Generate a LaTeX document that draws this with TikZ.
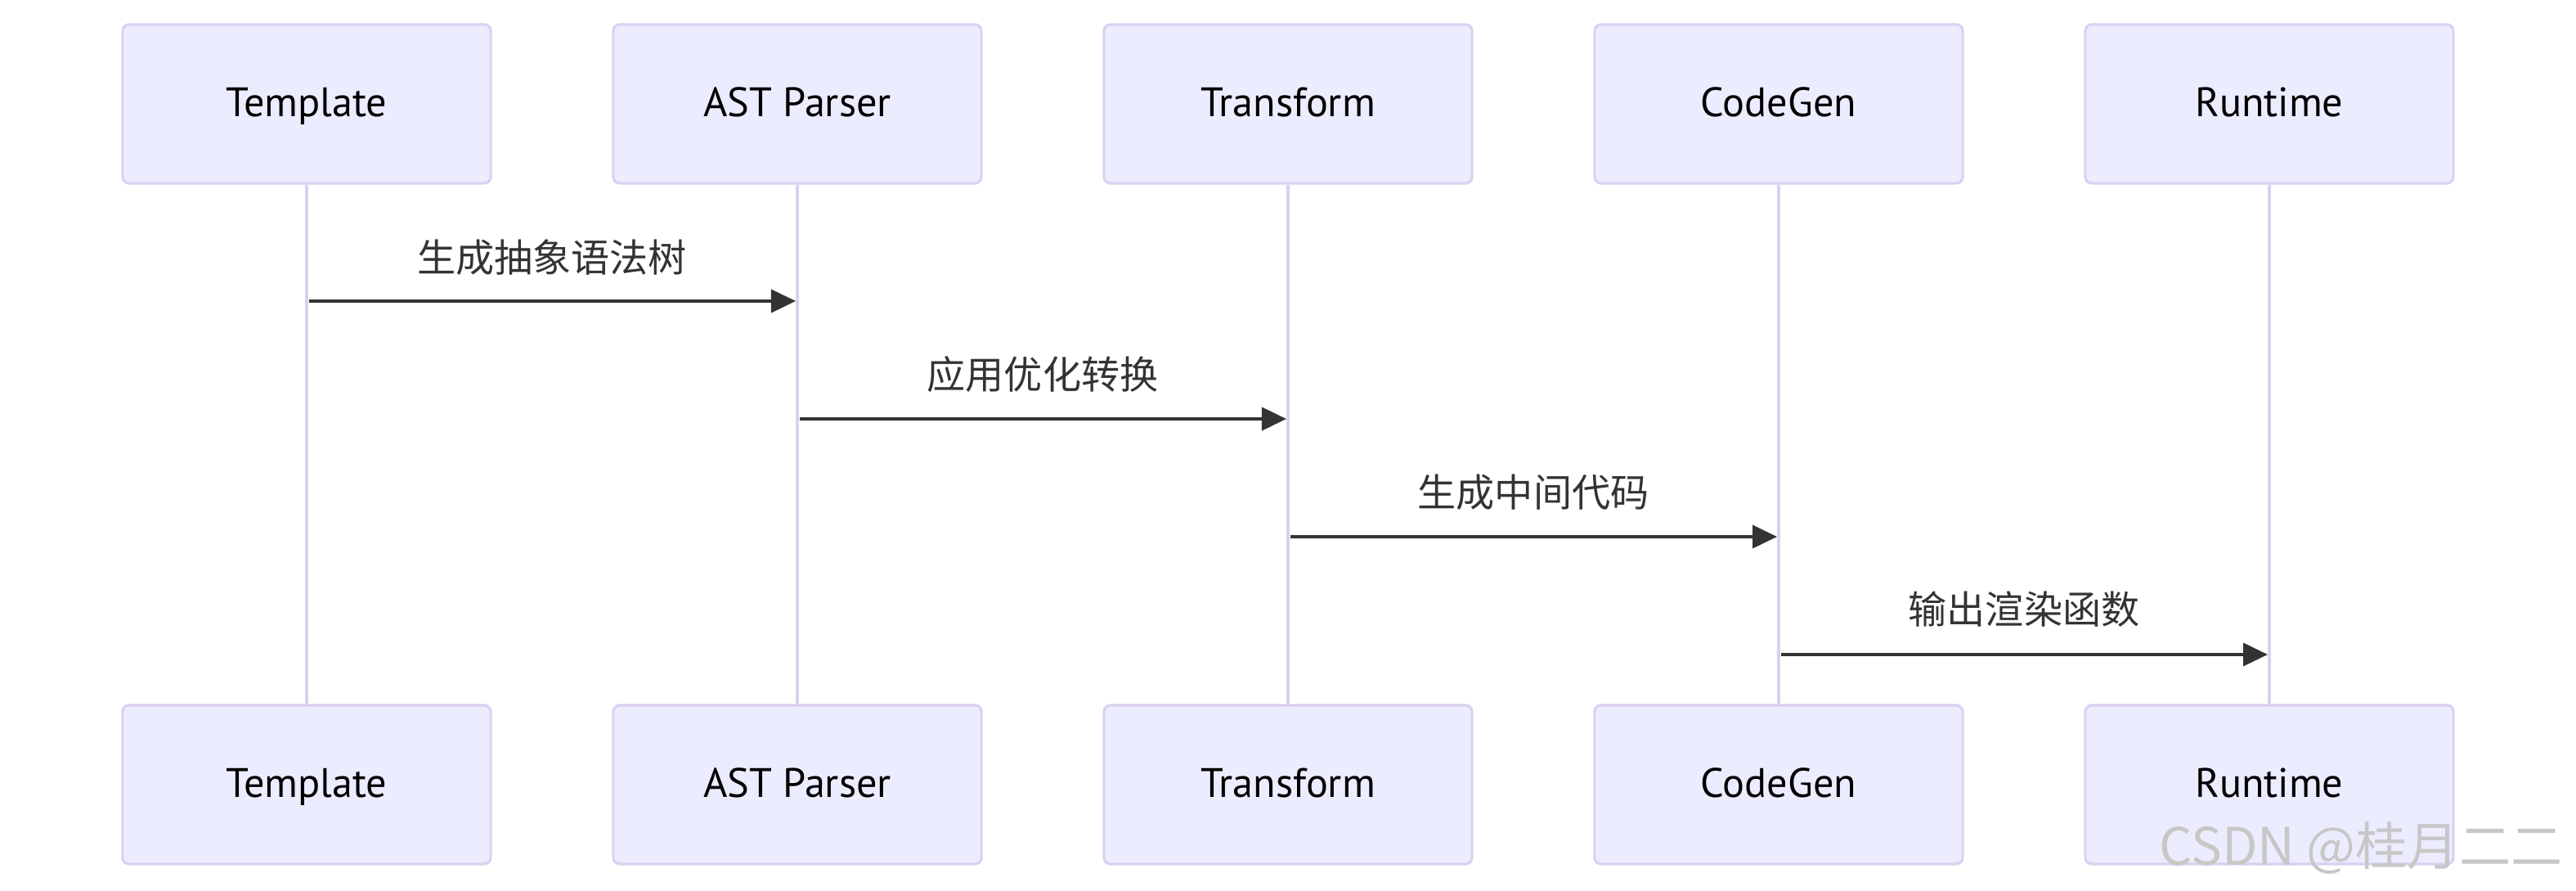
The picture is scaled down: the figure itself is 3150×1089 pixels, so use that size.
\documentclass[tikz,border=0pt]{standalone}
\usepackage{fontspec}
\setmainfont{PT Sans}
\newfontfamily\cjk{Noto Sans CJK SC}
\usetikzlibrary{arrows.meta}
\definecolor{actfill}{HTML}{ECECFF}
\definecolor{actline}{HTML}{D9D0F2}
\definecolor{msgcol}{HTML}{333333}
\tikzset{
  actor/.style={draw=actline, line width=0.9pt, fill=actfill, rounded corners=0.08cm,
    minimum width=4.5cm, minimum height=1.94cm, text height=1.1em, text depth=0.2em,
    font=\fontsize{14.3}{16}\selectfont},
  lifeline/.style={draw=actline, line width=1.4pt},
  msg/.style={draw=msgcol, line width=1.1pt, -{Triangle[length=0.3cm,width=0.28cm]}},
  msglabel/.style={text=msgcol, font=\cjk\fontsize{13.4}{15}\selectfont}
}
\begin{document}
\begin{tikzpicture}[x=0.01cm, y=-0.01cm]
\useasboundingbox (0,0) rectangle (3150,1089);
% participants, top row
\node[actor] (tpl) at (375,127) {Template};
\node[actor] (ast) at (975,127) {AST Parser};
\node[actor] (trf) at (1575,127) {Transform};
\node[actor] (gen) at (2175,127) {CodeGen};
\node[actor] (run) at (2775,127) {Runtime};
% participants, bottom row
\node[actor] (tplb) at (375,959) {Template};
\node[actor] (astb) at (975,959) {AST Parser};
\node[actor] (trfb) at (1575,959) {Transform};
\node[actor] (genb) at (2175,959) {CodeGen};
\node[actor] (runb) at (2775,959) {Runtime};
% lifelines
\draw[lifeline] (tpl) -- (tplb);
\draw[lifeline] (ast) -- (astb);
\draw[lifeline] (trf) -- (trfb);
\draw[lifeline] (gen) -- (genb);
\draw[lifeline] (run) -- (runb);
% message ends
\coordinate (m1a) at (378,368);
\coordinate (m1b) at (973,368);
\coordinate (m2a) at (978,512);
\coordinate (m2b) at (1573,512);
\coordinate (m3a) at (1578,656);
\coordinate (m3b) at (2173,656);
\coordinate (m4a) at (2178,800);
\coordinate (m4b) at (2773,800);
\draw[msg] (m1a) -- (m1b);
\draw[msg] (m2a) -- (m2b);
\draw[msg] (m3a) -- (m3b);
\draw[msg] (m4a) -- (m4b);
\node[msglabel] (l1) at (675,315) {生成抽象语法树};
\node[msglabel] (l2) at (1275,458) {应用优化转换};
\node[msglabel] (l3) at (1875,602) {生成中间代码};
\node[msglabel] (l4) at (2475,745) {输出渲染函数};
% watermark
\node[text=black!22, font=\cjk\fontsize{18}{20}\selectfont, anchor=east] (wm) at (3146,1036) {CSDN @桂月二二};
\end{tikzpicture}
\end{document}
